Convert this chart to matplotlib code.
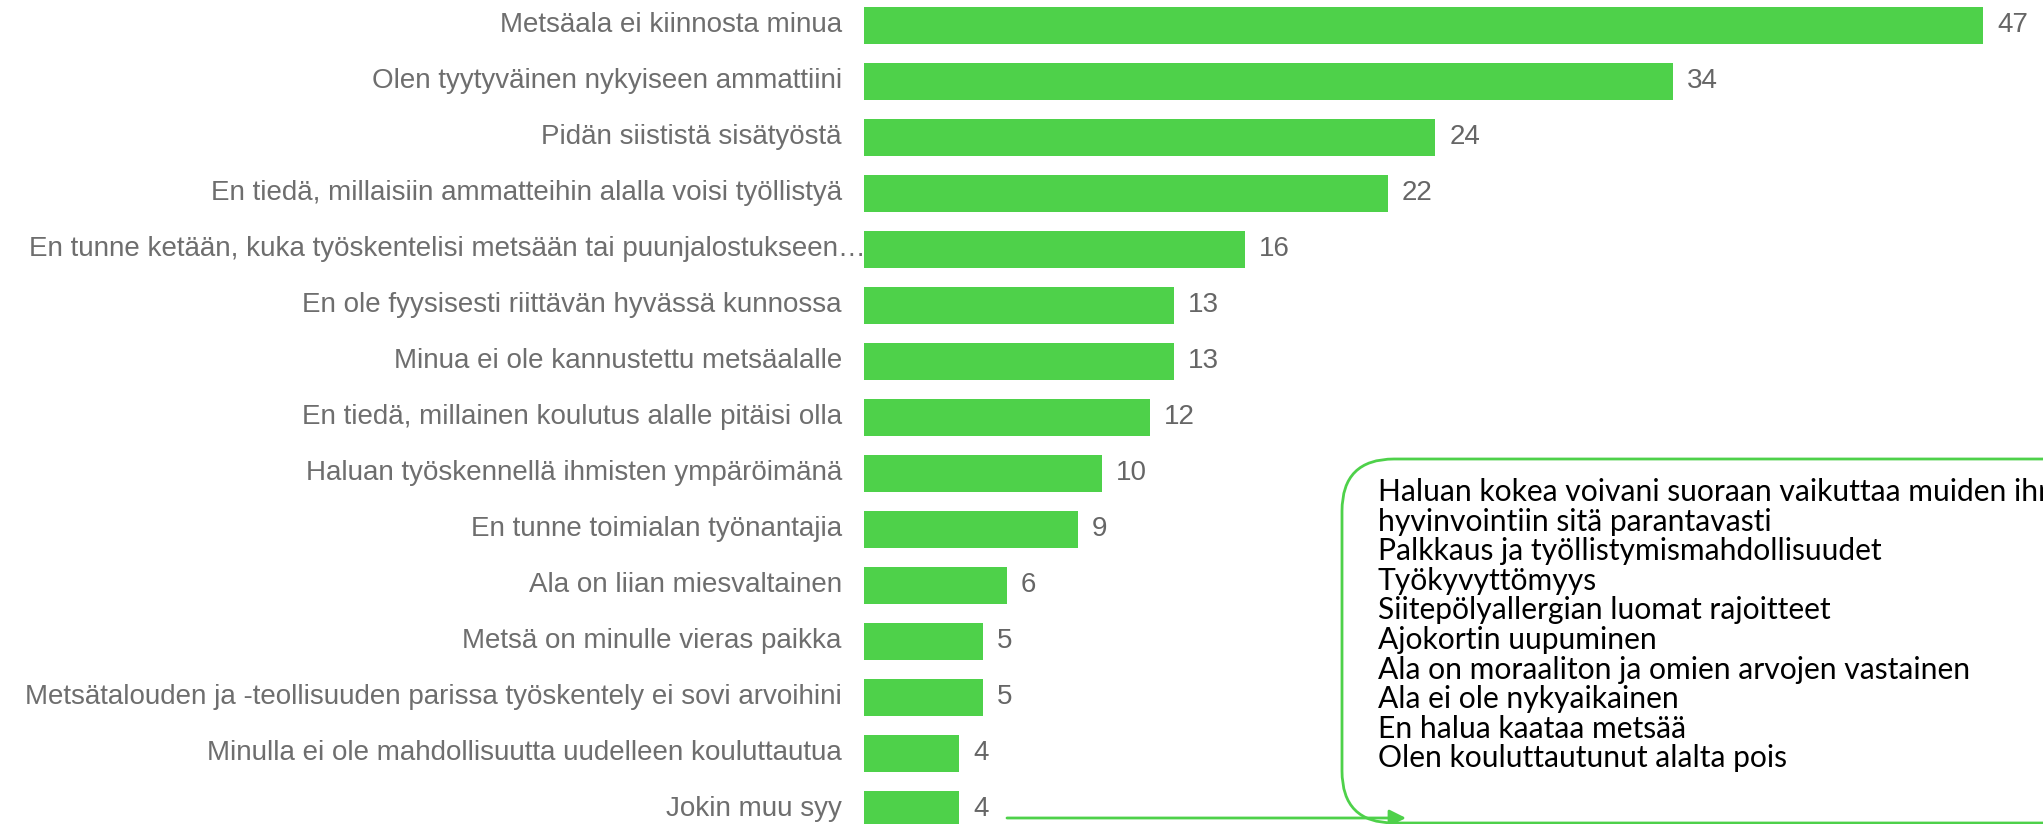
import matplotlib.pyplot as plt
from matplotlib.patches import FancyBboxPatch

# Syyt, miksi metsäala ei kiinnosta (lukumäärät)
categories = [
    "Metsäala ei kiinnosta minua",
    "Olen tyytyväinen nykyiseen ammattiini",
    "Pidän siististä sisätyöstä",
    "En tiedä, millaisiin ammatteihin alalla voisi työllistyä",
    "En tunne ketään, kuka työskentelisi metsään tai puunjalostukseen…",
    "En ole fyysisesti riittävän hyvässä kunnossa",
    "Minua ei ole kannustettu metsäalalle",
    "En tiedä, millainen koulutus alalle pitäisi olla",
    "Haluan työskennellä ihmisten ympäröimänä",
    "En tunne toimialan työnantajia",
    "Ala on liian miesvaltainen",
    "Metsä on minulle vieras paikka",
    "Metsätalouden ja -teollisuuden parissa työskentely ei sovi arvoihini",
    "Minulla ei ole mahdollisuutta uudelleen kouluttautua",
    "Jokin muu syy",
]
values = [47, 34, 24, 22, 16, 13, 13, 12, 10, 9, 6, 5, 5, 4, 4]

other_reasons = [
    "Haluan kokea voivani suoraan vaikuttaa muiden ihmisten",
    "hyvinvointiin sitä parantavasti",
    "Palkkaus ja työllistymismahdollisuudet",
    "Työkyvyttömyys",
    "Siitepölyallergian luomat rajoitteet",
    "Ajokortin uupuminen",
    "Ala on moraaliton ja omien arvojen vastainen",
    "Ala ei ole nykyaikainen",
    "En halua kaataa metsää",
    "Olen kouluttautunut alalta pois",
]

GREEN = "#4ed14a"
W, H = 2043, 824

fig = plt.figure(figsize=(W / 100, H / 100), dpi=100)
fig.patch.set_facecolor("white")

# pääkaavio: palkit
ax = fig.add_axes([864 / W, 0, (1983 - 864) / W, 1])
pos = list(range(len(values)))
ax.barh(pos, values, height=0.66, color=GREEN)
ax.set_xlim(0, max(values))
ax.set_ylim((H - 25.5) / 56, -25.5 / 56)
ax.axis("off")

for i, (cat, v) in enumerate(zip(categories, values)):
    dx = 1 if cat.endswith("…") else -16
    ax.annotate(cat, (0, i), xytext=(dx, 0), textcoords="offset points",
                ha="right", va="center", fontsize=20, color="#6e6e6e",
                family="Liberation Sans", annotation_clip=False)
    ax.annotate(str(v), (v, i), xytext=(10, 0), textcoords="offset points",
                ha="left", va="center", fontsize=20, color="#666666",
                family="Liberation Sans", annotation_clip=False)

# kehys "Jokin muu syy" -vastauksille, pikselikoordinaateissa
ov = fig.add_axes([0, 0, 1, 1])
ov.set_xlim(0, W)
ov.set_ylim(H, 0)
ov.axis("off")
ov.patch.set_alpha(0)

box = FancyBboxPatch((1342, 459), 800, 364,
                     boxstyle="round,pad=0,rounding_size=52",
                     fc="white", ec=GREEN, lw=2)
ov.add_patch(box)
ov.text(1378, 478, "\n".join(other_reasons), ha="left", va="top",
        fontsize=21.6, linespacing=1.07, color="black", family="Lato")

ov.annotate("", xy=(1406, 818), xytext=(1007, 818),
            arrowprops=dict(arrowstyle="-|>", color=GREEN, lw=2,
                            mutation_scale=25, shrinkA=0, shrinkB=0))

fig.savefig("out.png", dpi=100)
